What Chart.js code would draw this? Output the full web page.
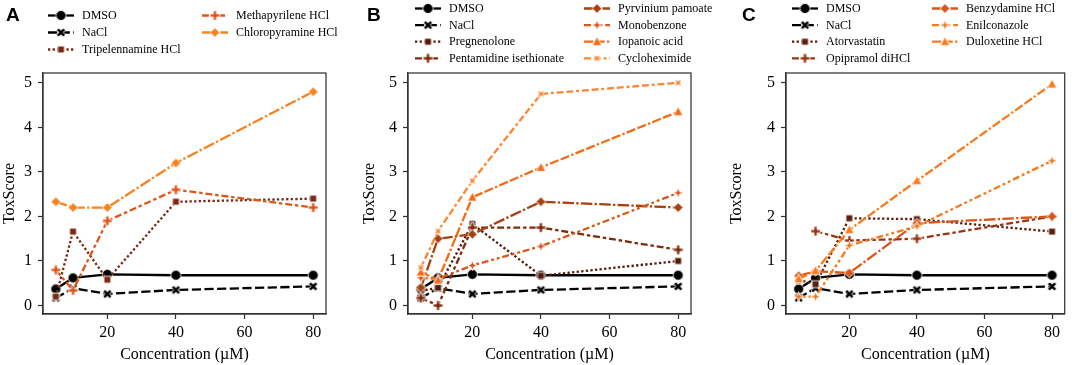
<!DOCTYPE html>
<html>
<head>
<meta charset="utf-8">
<title>ToxScore by concentration</title>
<style>
    body {
        margin: 0;
        background: #fff;
    }

    #wrap {
        position: relative;
        width: 1072px;
        height: 365px;
        overflow: hidden;
    }

    .panel {
        position: absolute;
        top: 0;
        height: 365px;
    }
</style>
</head>
<body>
<div id="wrap">
    <div class="panel" style="left:0;width:360px"><canvas id="chartA"></canvas></div>
    <div class="panel" style="left:360px;width:367px"><canvas id="chartB"></canvas></div>
    <div class="panel" style="left:727px;width:345px"><canvas id="chartC"></canvas></div>
</div>

<script src="https://cdn.jsdelivr.net/npm/chart.js"></script>
<script>
    // x values and tick labels
    const conc = [5, 10, 20, 40, 80];
    const xTicks = [20, 40, 60, 80];
    const yTicks = [0, 1, 2, 3, 4, 5];

    // controls (same in every panel)
    const dmso = [0.37, 0.62, 0.70, 0.68, 0.68];
    const nacl = [0.17, 0.39, 0.26, 0.35, 0.43];

    // panel A
    const tripelennamine = [0.20, 1.66, 0.58, 2.33, 2.40];
    const methapyrilene = [0.80, 0.34, 1.90, 2.60, 2.20];
    const chloropyramine = [2.33, 2.20, 2.20, 3.20, 4.80];

    // panel B
    const pregnenolone = [0.33, 0.40, 1.83, 0.67, 1.00];
    const pentamidine = [0.17, 0.00, 1.75, 1.75, 1.25];
    const pyrvinium = [0.40, 1.50, 1.60, 2.33, 2.20];
    const monobenzone = [0.62, 0.60, 0.90, 1.33, 2.53];
    const iopanoic = [0.75, 0.57, 2.43, 3.10, 4.35];
    const cycloheximide = [0.85, 1.67, 2.80, 4.75, 5.00];

    // panel C
    const atorvastatin = [0.57, 0.48, 1.96, 1.94, 1.66];
    const opipramol = [null, 1.67, 1.46, 1.50, 2.00];
    const benzydamine = [0.67, 0.77, 0.73, 1.85, 2.00];
    const enilconazole = [0.20, 0.20, 1.35, 1.78, 3.25];
    const duloxetine = [0.60, 0.78, 1.70, 2.80, 4.97];

    // seaborn-like style cycle
    const dashCycle = [[], [4, 1.5], [1, 1], [3, 1.25, 1.5, 1.25], [5, 1, 1, 1],
        [3, 1.25, 1.25, 1.25, 1.25, 1.25], [4, 1, 4, 1, 1, 1], [3, 1.25, 3, 1.25, 1.25, 1.25]];
    const markerCycle = ['o', 'X', 's', 'P', 'D', 'star', '^', 'starx'];
    const lineW = 2.3;

    function poly(g, pts) {
        g.moveTo(pts[0][0], pts[0][1]);
        for (let i = 1; i < pts.length; i++) g.lineTo(pts[i][0], pts[i][1]);
    }

    function makeMarker(shape, color, r) {
        const s = Math.ceil(2 * r + 5);
        const c = document.createElement('canvas');
        c.width = s;
        c.height = s;
        const g = c.getContext('2d');
        g.translate(s / 2, s / 2);
        g.beginPath();
        if (shape === 'o') {
            g.arc(0, 0, r, 0, Math.PI * 2);
        } else if (shape === 's') {
            const h = r * 0.72;
            g.rect(-h, -h, 2 * h, 2 * h);
        } else if (shape === 'D') {
            poly(g, [[0, -r], [r, 0], [0, r], [-r, 0]]);
        } else if (shape === '^') {
            poly(g, [[0, -r * 1.05], [r, r * 0.8], [-r, r * 0.8]]);
        } else if (shape === 'P') {
            const w = r / 3;
            poly(g, [[-w, -r], [w, -r], [w, -w], [r, -w], [r, w], [w, w], [w, r], [-w, r], [-w, w], [-r, w], [-r, -w], [-w, -w]]);
        } else if (shape === 'X') {
            const k = r * 1.9;
            poly(g, [[0.25, 0], [0.5, 0.25], [0.25, 0.5], [0, 0.25], [-0.25, 0.5], [-0.5, 0.25], [-0.25, 0],
                [-0.5, -0.25], [-0.25, -0.5], [0, -0.25], [0.25, -0.5], [0.5, -0.25]].map(p => [p[0] * k, p[1] * k]));
        } else {
            const rot = shape === 'starx' ? Math.PI / 4 : 0;
            const pts = [];
            for (let i = 0; i < 8; i++) {
                const a = rot + i * Math.PI / 4 - Math.PI / 2;
                const rr = i % 2 ? r * 0.42 : r * 1.05;
                pts.push([Math.cos(a) * rr, Math.sin(a) * rr]);
            }
            poly(g, pts);
        }
        g.closePath();
        g.fillStyle = color;
        g.fill();
        g.strokeStyle = '#fff';
        g.lineWidth = 0.9;
        g.stroke();
        return c;
    }

    const tickFont = { family: '"Liberation Serif", "Times New Roman", serif', size: 16 };
    const titleFont = { family: '"Liberation Serif", "Times New Roman", serif', size: 16 };

    // legend, panel letter and full box
    const panelDecor = {
        id: 'panelDecor',
        afterDraw(chart, args, opts) {
            const ctx = chart.ctx;
            ctx.save();
            ctx.fillStyle = '#000';
            ctx.font = 'bold 19px "Liberation Sans", Arial, sans-serif';
            ctx.textBaseline = 'alphabetic';
            ctx.fillText(opts.letter, opts.letterX, 20.5);

            ctx.font = '12px "Liberation Serif", "Times New Roman", serif';
            ctx.textBaseline = 'middle';
            chart.data.datasets.forEach((ds, i) => {
                const col = i < opts.split ? 0 : 1;
                const row = col ? i - opts.split : i;
                const x0 = opts.cols[col];
                const y = opts.rowY + row * opts.rowH;
                ctx.strokeStyle = ds.borderColor;
                ctx.lineWidth = ds.borderWidth;
                ctx.setLineDash(ds.borderDash);
                ctx.beginPath();
                ctx.moveTo(x0, y);
                ctx.lineTo(x0 + 26, y);
                ctx.stroke();
                ctx.setLineDash([]);
                const img = ds.pointStyle;
                ctx.drawImage(img, x0 + 13 - img.width / 2, y - img.height / 2);
                ctx.fillStyle = '#000';
                ctx.fillText(ds.label, x0 + 34, y + 0.5);
            });

            const a = chart.chartArea;
            ctx.strokeStyle = '#333';
            ctx.lineWidth = 1.25;
            ctx.strokeRect(a.left, a.top, a.right - a.left, a.bottom - a.top);
            ctx.restore();
        }
    };

    function axisGrid() {
        return { display: true, drawOnChartArea: false, drawTicks: true, tickLength: 5, tickColor: '#333', tickWidth: 1.25 };
    }

    function buildChart(id, names, values, colors, yWidth, padRight, decor) {
        const n = names.length;
        const datasets = names.map((name, i) => ({
            label: name,
            data: conc.map((x, j) => ({ x: x, y: values[i][j] })),
            borderColor: colors[i],
            backgroundColor: colors[i],
            borderWidth: lineW,
            borderDash: dashCycle[i].map(d => d * lineW),
            pointStyle: makeMarker(markerCycle[i], colors[i], markerCycle[i] === 'o' ? 5 : 4.8),
            pointRadius: 5,
            pointHoverRadius: 5,
            order: n - i,
            tension: 0,
            clip: false
        }));

        return new Chart(document.getElementById(id), {
            type: 'line',
            data: { datasets: datasets },
            plugins: [panelDecor],
            options: {
                responsive: true,
                maintainAspectRatio: false,
                animation: false,
                events: [],
                layout: { padding: { top: 73, right: padRight, bottom: 0, left: 0 } },
                plugins: {
                    legend: { display: false },
                    tooltip: { enabled: false },
                    panelDecor: decor
                },
                scales: {
                    x: {
                        type: 'linear',
                        min: 1.25,
                        max: 83.75,
                        afterBuildTicks: s => { s.ticks = xTicks.map(v => ({ value: v })); },
                        afterFit: s => { s.height = 51; },
                        ticks: { font: tickFont, color: '#000', padding: 4, maxRotation: 0 },
                        grid: axisGrid(),
                        border: { display: true, color: '#333', width: 1.25 },
                        title: { display: true, text: 'Concentration (µM)', font: titleFont, color: '#000', padding: { top: 0, bottom: 1 } }
                    },
                    y: {
                        min: -0.19,
                        max: 5.22,
                        afterBuildTicks: s => { s.ticks = yTicks.map(v => ({ value: v })); },
                        afterFit: s => { s.width = yWidth; },
                        ticks: { font: tickFont, color: '#000', padding: 6 },
                        grid: axisGrid(),
                        border: { display: true, color: '#333', width: 1.25 },
                        title: { display: true, text: 'ToxScore', font: titleFont, color: '#000', padding: { top: 0, bottom: 0 } }
                    }
                }
            }
        });
    }

    buildChart('chartA',
        ['DMSO', 'NaCl', 'Tripelennamine HCl', 'Methapyrilene HCl', 'Chloropyramine HCl'],
        [dmso, nacl, tripelennamine, methapyrilene, chloropyramine],
        ['#000000', '#000000', '#7a2812', '#df5518', '#f7821f'],
        43, 34,
        { letter: 'A', letterX: 6, split: 3, cols: [48, 202], rowY: 15.5, rowH: 17 });

    buildChart('chartB',
        ['DMSO', 'NaCl', 'Pregnenolone', 'Pentamidine isethionate', 'Pyrvinium pamoate', 'Monobenzone', 'Iopanoic acid', 'Cycloheximide'],
        [dmso, nacl, pregnenolone, pentamidine, pyrvinium, monobenzone, iopanoic, cycloheximide],
        ['#000000', '#000000', '#561b08', '#7f2a0c', '#a8400f', '#da5619', '#f56a14', '#fb8533'],
        48, 36,
        { letter: 'B', letterX: 7, split: 4, cols: [55, 224], rowY: 8.5, rowH: 16.6 });

    buildChart('chartC',
        ['DMSO', 'NaCl', 'Atorvastatin', 'Opipramol diHCl', 'Benzydamine HCl', 'Enilconazole', 'Duloxetine HCl'],
        [dmso, nacl, atorvastatin, opipramol, benzydamine, enilconazole, duloxetine],
        ['#000000', '#000000', '#5e1e0a', '#983610', '#d9561a', '#f5791f', '#fb7a1c'],
        59, 3,
        { letter: 'C', letterX: 15, split: 4, cols: [65, 205], rowY: 8.5, rowH: 16.6 });
</script>
</body>
</html>
